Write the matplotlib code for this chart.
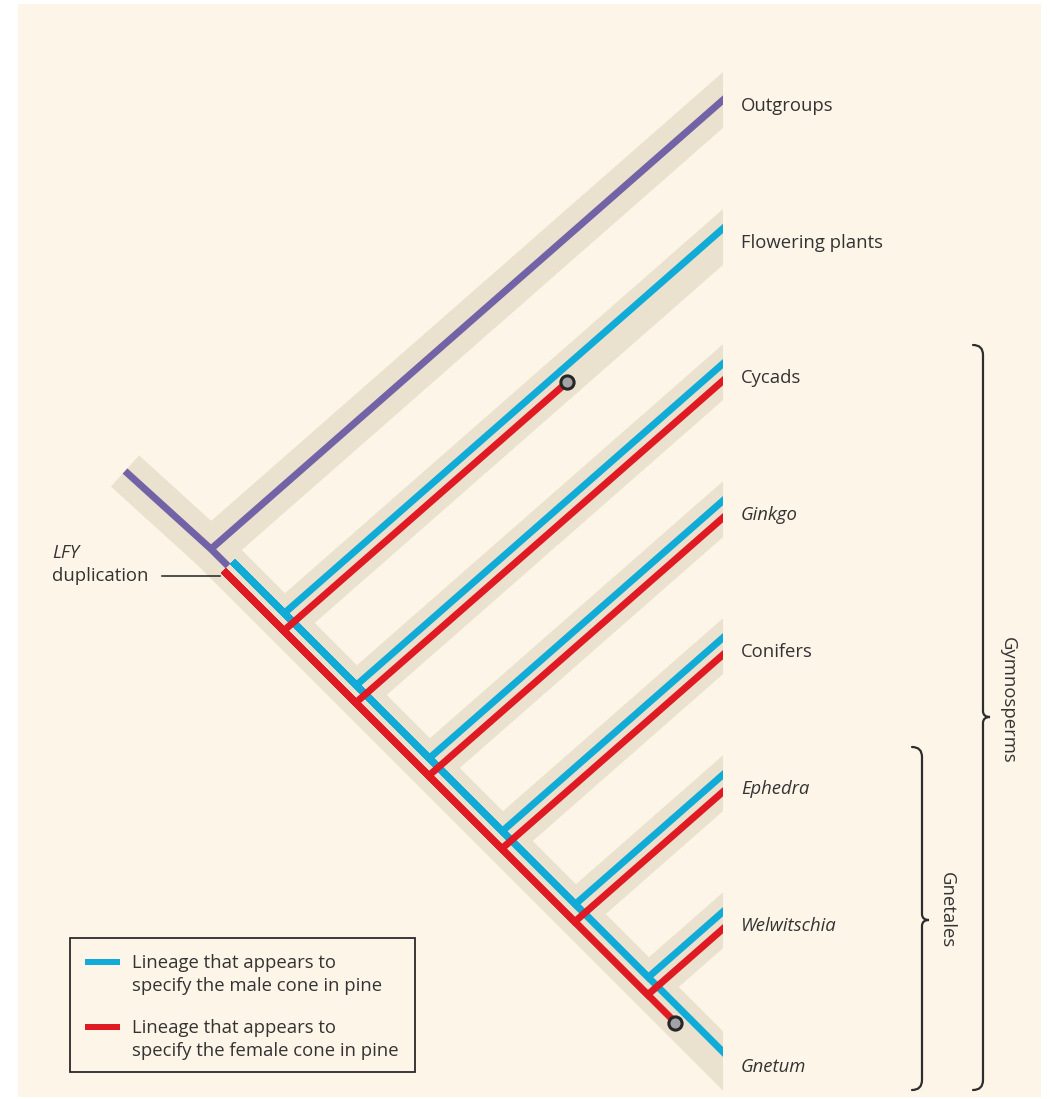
import numpy as np
import matplotlib
matplotlib.use("Agg")
import matplotlib.pyplot as plt
from matplotlib.patches import Rectangle, PathPatch
from matplotlib.path import Path

# ---------------- data ----------------
taxa = ["Outgroups", "Flowering plants", "Cycads", "Ginkgo", "Conifers",
        "Ephedra", "Welwitschia", "Gnetum"]
taxa_italic = [False, False, False, True, False, True, True, True]
# x position of the branching node on the backbone for each taxon (Gnetum ends the backbone)
node_x = [211, 284, 356, 429, 502, 575, 648]
root_xy = (125, 471)
dup_x = 228                      # LFY duplication point on backbone
blue_taxa = ["Flowering plants", "Cycads", "Ginkgo", "Conifers", "Ephedra", "Welwitschia", "Gnetum"]
red_taxa = ["Cycads", "Ginkgo", "Conifers", "Ephedra", "Welwitschia"]
red_loss_branch = ("Flowering plants", 563)
red_loss_backbone_x = 680
legend_labels = ["Lineage that appears to\nspecify the male cone in pine",
                 "Lineage that appears to\nspecify the female cone in pine"]
groups = [("Gymnosperms", "Cycads", "Gnetum"), ("Gnetales", "Ephedra", "Gnetum")]

# ---------------- style / layout ----------------
W, H = 1051, 1099
BG = "#fef5e9"
BAND = "#ebe1cf"
BLUE = "#10abd6"
RED = "#e01a22"
PURPLE = "#7262a6"
TXT = "#333333"
TIP_X = 723
C_BB = 338          # backbone: y = x + C_BB
SLOPE = 0.877       # branch slope (up-right)
OFF = 6.4           # offset of blue/red from centre line
BAND_HW = 21
PX = 0.72           # points per pixel at dpi 100
FONT = "Open Sans"
FS = 13.3

fig = plt.figure(figsize=(W / 100, H / 100), dpi=100)
fig.patch.set_facecolor("white")
ax = fig.add_axes([0, 0, 1, 1])
ax.set_xlim(0, W)
ax.set_ylim(H, 0)
ax.axis("off")
ax.add_patch(Rectangle((18, 4), 1023, 1093, facecolor=BG, edgecolor="none", zorder=0))
clip = Rectangle((0, 0), TIP_X, H, transform=ax.transData)

def bb_y(x):
    return x + C_BB

u_bb = np.array([1, 1]) / np.sqrt(2)
n_bb = np.array([1, -1]) / np.sqrt(2)       # blue side of backbone
nrm = np.hypot(1, SLOPE)
u_br = np.array([1, -SLOPE]) / nrm
n_br = np.array([-SLOPE, -1]) / nrm         # blue side of branches

nodes = [np.array([x, bb_y(x)], float) for x in node_x]
D = np.array([dup_x, bb_y(dup_x)], float)
R = np.array(root_xy, float)

def branch_end(k, x):
    n = nodes[k]
    return np.array([x, n[1] - SLOPE * (x - n[0])])

def intersect(A, a, B, b):
    M = np.array([a, -b]).T
    t, s = np.linalg.solve(M, B - A)
    return A + t * a

def offset_poly(pts, offs):
    pts = [np.asarray(p, float) for p in pts]
    out = [pts[0] + offs[0]]
    for i in range(1, len(pts) - 1):
        A = pts[i - 1] + offs[i - 1]; a = pts[i] - pts[i - 1]
        B = pts[i] + offs[i]; b = pts[i + 1] - pts[i]
        out.append(intersect(A, a, B, b))
    out.append(pts[-1] + offs[-1])
    return np.array(out)

def draw(poly, color, lw_px, z, cap="butt"):
    ln, = ax.plot(poly[:, 0], poly[:, 1], color=color, lw=lw_px * PX,
                  solid_capstyle=cap, solid_joinstyle="miter", zorder=z)
    ln.set_clip_path(clip)
    return ln

EXT = TIP_X + 40
# ---- background bands ----
bb_end = np.array([EXT, bb_y(EXT)])
draw(np.array([R] + nodes + [bb_end]), BAND, 2 * BAND_HW, 1)
for k in range(len(nodes)):
    draw(np.array([nodes[k] - 4 * u_br, branch_end(k, EXT)]), BAND, 2 * BAND_HW, 1)

# ---- purple (before duplication + outgroups) ----
draw(np.array([R, nodes[0], D]), PURPLE, 7, 3)
draw(np.array([nodes[0], branch_end(0, EXT)]), PURPLE, 7, 3)

# ---- blue / red lineages ----
for name in blue_taxa:
    k = taxa.index(name)
    if k < len(nodes):
        poly = offset_poly([D, nodes[k], branch_end(k, EXT)], [OFF * n_bb, OFF * n_br])
    else:
        poly = offset_poly([D, bb_end], [OFF * n_bb])
    draw(poly, BLUE, 7, 3)

for name in red_taxa:
    k = taxa.index(name)
    poly = offset_poly([D, nodes[k], branch_end(k, EXT)], [-OFF * n_bb, -OFF * n_br])
    draw(poly, RED, 7, 3)

loss_pts = []
k = taxa.index(red_loss_branch[0])
poly = offset_poly([D, nodes[k], branch_end(k, red_loss_branch[1])], [-OFF * n_bb, -OFF * n_br])
draw(poly, RED, 7, 3)
loss_pts.append(poly[-1])
poly = offset_poly([D, np.array([red_loss_backbone_x, bb_y(red_loss_backbone_x)])], [-OFF * n_bb])
draw(poly, RED, 7, 3)
loss_pts.append(poly[-1])
for p in loss_pts:
    ax.plot(p[0], p[1], "o", ms=9.5, mfc="#a3a3a6", mec="#262626", mew=2.2, zorder=5)

# ---- tip labels ----
for i, name in enumerate(taxa):
    if i < len(nodes):
        y = branch_end(i, TIP_X)[1]
    else:
        y = bb_y(TIP_X)
    ax.text(741, y + 6, name, fontsize=FS, family=FONT, color=TXT,
            style="italic" if taxa_italic[i] else "normal", va="center", ha="left", zorder=6)

# ---- LFY duplication annotation ----
ax.text(52, 553, "LFY", fontsize=FS, family=FONT, color=TXT, style="italic", va="center", ha="left")
ax.text(52, 576, "duplication", fontsize=FS, family=FONT, color=TXT, va="center", ha="left")
ax.plot([162, D[0] - 8], [576, 576], color="#222222", lw=1.1, zorder=6)

# ---- braces ----
def brace(x, y0, y1, ym, tip=7, hook=10):
    verts = [(x - hook, y0), (x, y0), (x, y0 + hook),
             (x, ym - 6), (x, ym), (x + tip, ym),
             (x, ym), (x, ym + 6),
             (x, y1 - hook), (x, y1), (x - hook, y1)]
    codes = [Path.MOVETO, Path.CURVE3, Path.CURVE3,
             Path.LINETO, Path.CURVE3, Path.CURVE3,
             Path.CURVE3, Path.CURVE3,
             Path.LINETO, Path.CURVE3, Path.CURVE3]
    ax.add_patch(PathPatch(Path(verts, codes), facecolor="none", edgecolor="#2e2e2e",
                           lw=1.6, zorder=6, capstyle="round"))

brace_geom = {"Gymnosperms": (983, 345, 1090, 717, 1008, 700),
              "Gnetales": (922, 747, 1090, 920, 947, 910)}
for name, first, last in groups:
    x, y0, y1, ym, tx, ty = brace_geom[name]
    brace(x, y0, y1, ym)
    ax.text(tx, ty, name, rotation=270,
            fontsize=FS, family=FONT, color=TXT, va="center", ha="center")

# ---- legend ----
ax.add_patch(Rectangle((70, 938), 345, 134, facecolor="none", edgecolor="#2a2a2a", lw=1.3, zorder=6))
for color, label, y in zip([BLUE, RED], legend_labels, [962, 1027]):
    ax.plot([85, 120], [y, y], color=color, lw=6 * PX, solid_capstyle="butt", zorder=6)
    ax.text(132, y + 12.5, label, fontsize=FS, family=FONT, color=TXT, va="center", ha="left",
            linespacing=1.3, zorder=6)

fig.savefig("out.png", dpi=100, facecolor="white")
